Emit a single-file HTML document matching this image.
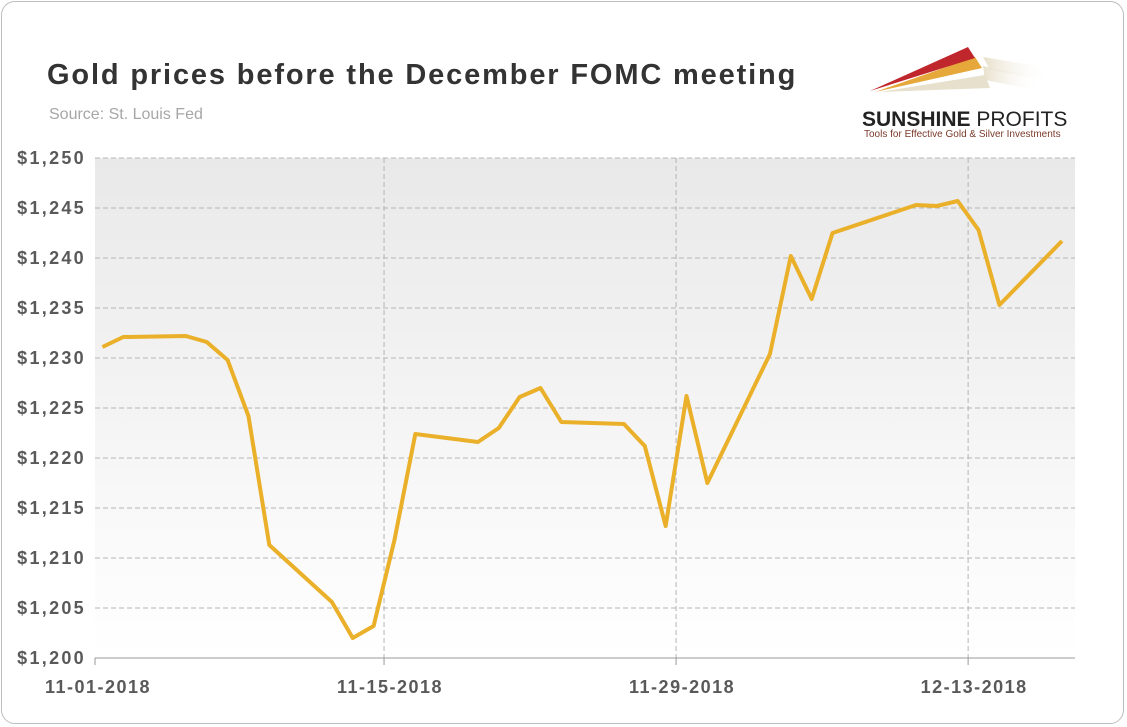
<!DOCTYPE html>
<html><head><meta charset="utf-8"><style>
body{margin:0;width:1127px;height:727px;background:#fff;font-family:"Liberation Sans",sans-serif;overflow:hidden}
#frame{position:absolute;left:1px;top:1px;width:1123px;height:723px;border:1px solid #bdbdbd;border-radius:14px;box-sizing:border-box}
</style></head><body>
<div id="frame"></div>
<svg width="1127" height="727" style="position:absolute;left:0;top:0">
<defs><linearGradient id="bg" x1="0" y1="0" x2="0" y2="1"><stop offset="0" stop-color="#e9e9e9"/><stop offset="1" stop-color="#ffffff"/></linearGradient>
<linearGradient id="fade" x1="0" y1="0" x2="1" y2="0"><stop offset="0" stop-color="#e8e0cc"/><stop offset="1" stop-color="#fff" stop-opacity="0"/></linearGradient></defs>
<text x="47" y="84" font-size="29" font-weight="bold" fill="#333" letter-spacing="1.85">Gold prices before the December FOMC meeting</text>
<text x="49" y="119" font-size="16" fill="#a6a6a6">Source: St. Louis Fed</text>
<g>
<polygon points="983,57 1050,68 1045,80 990,70" fill="url(#fade)"/>
<polygon points="983,66 1040,78 1035,90 985,80" fill="url(#fade)"/>
<polygon points="880,92 985,75 990,88" fill="#e6e0cc"/>
<polygon points="875,92 975,57 982,68" fill="#e6a83a"/>
<polygon points="870,91 968,47 975,58" fill="#c0272d"/>
<text x="862" y="126" font-size="21" font-weight="bold" fill="#222">SUNSHINE <tspan font-weight="normal">PROFITS</tspan></text>
<text x="864" y="137" font-size="10" fill="#7a3a2a">Tools for Effective Gold &amp; Silver Investments</text>
</g>
<rect x="95" y="158" width="980" height="500" fill="url(#bg)"/>
<g id="grid"></g><g id="axes"></g>
<polyline id="line" fill="none" stroke="#eab02a" stroke-width="4" stroke-linejoin="round"/>
</svg>
<script>
const days=[0.5,1.5,4.5,5.5,6.5,7.5,8.5,11.5,12.5,13.5,14.5,15.5,18.5,19.5,20.5,21.5,22.5,25.5,26.5,27.5,28.5,29.5,32.5,33.5,34.5,35.5,39.5,40.5,41.5,42.5,43.5,46.5];
const prices=[1231.1,1232.1,1232.2,1231.6,1229.8,1224.2,1211.3,1205.6,1202.0,1203.2,1211.8,1222.4,1221.6,1223.0,1226.1,1227.0,1223.6,1223.4,1221.2,1213.2,1226.2,1217.5,1230.4,1240.2,1235.9,1242.5,1245.3,1245.2,1245.7,1242.8,1235.3,1241.7];
const yTicks=[1200,1205,1210,1215,1220,1225,1230,1235,1240,1245,1250];
const xTickDays=[0,14,28,42];
const xTickLabels=["11-01-2018","11-15-2018","11-29-2018","12-13-2018"];
const X=d=>92+d*20.86, Y=v=>658-(v-1200)*10;
const NS="http://www.w3.org/2000/svg";
const grid=document.getElementById('grid'),axes=document.getElementById('axes');
function mk(tag,attrs,parent){const e=document.createElementNS(NS,tag);for(const k in attrs)e.setAttribute(k,attrs[k]);parent.appendChild(e);return e;}
yTicks.forEach(v=>{
 if(v>1200){const l=mk('line',{x1:95,x2:1075,y1:Y(v),y2:Y(v),stroke:'#b5b5b5','stroke-dasharray':'5,3'},grid);
 
 }
 const t=mk('text',{x:86,y:Y(v)+6,'text-anchor':'end','font-size':18,'font-weight':'bold','letter-spacing':2.3,fill:'#595959'},axes);
 
 
 t.textContent='$'+String(v).replace(/(\d)(\d{3})$/,'$1,$2');
});
xTickDays.forEach((d,i)=>{
 if(i>0){const l=mk('line',{x1:X(d),x2:X(d),y1:158,y2:658,stroke:'#b5b5b5','stroke-dasharray':'5,3'},grid);
 
 }
 const tk=mk('line',{x1:X(d)+(i==0?3:0),x2:X(d)+(i==0?3:0),y1:658,y2:665,stroke:'#999'},axes);
 
 
 const t=mk('text',{x:X(d)+6,y:693,'text-anchor':'middle','font-size':18,'font-weight':'bold','letter-spacing':1.5,fill:'#595959'},axes);
 
 
 t.textContent=xTickLabels[i];
});
const ax=mk('line',{x1:95,x2:1075,y1:658,y2:658,stroke:'#999'},axes);


document.getElementById('line').setAttribute('points',days.map((d,i)=>X(d)+','+Y(prices[i])).join(' '));
</script>
</body></html>
